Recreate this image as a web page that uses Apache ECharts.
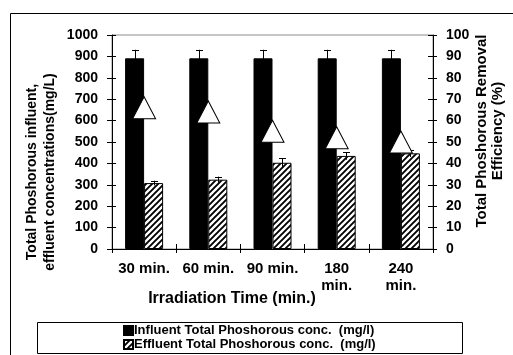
<!DOCTYPE html>
<html>
<head>
<meta charset="utf-8">
<script src="https://cdn.jsdelivr.net/npm/echarts@6/dist/echarts.min.js"></script>
<style>
  html, body { margin: 0; padding: 0; background: #fff; }
  #chart { width: 513px; height: 355px; }
</style>
</head>
<body>
<div id="chart"></div>
<script>
// Irradiation times (category axis)
const categories = ['30 min.', '60 min.', '90 min.', '180\nmin.', '240\nmin.'];

// Total phosphorus concentrations (mg/l) with error half-widths
const influent = [891, 891, 891, 891, 891];
const influentErr = [40, 40, 40, 40, 40];
const effluent = [308, 324, 403, 435, 447];
const effluentErr = [11, 14, 20, 18, 17];

// Removal efficiency (%) on the right axis
const efficiency = [66, 64, 55, 52, 50];

const seriesNames = [
  'Influent Total Phoshorous conc.  (mg/l)',
  'Effluent Total Phoshorous conc.  (mg/l)'
];
const leftTitle = 'Total Phoshorous influent,\neffluent concentrations(mg/L)';
const rightTitle = 'Total Phoshorous Removal\nEfficiency (%)';
const xTitle = 'Irradiation Time (min.)';

const FONT = '"Liberation Sans", Arial, Helvetica, sans-serif';
const BAR_W = 19;

// Diagonal "/" hatch tile for the effluent bars
function hatchTile() {
  const s = 6;
  const c = document.createElement('canvas');
  c.width = s; c.height = s;
  const g = c.getContext('2d');
  g.fillStyle = '#fff';
  g.fillRect(0, 0, s, s);
  g.strokeStyle = '#000';
  g.lineWidth = 1.9;
  g.beginPath();
  g.moveTo(-1, s + 1); g.lineTo(s + 1, -1);
  g.moveTo(-1, 1); g.lineTo(1, -1);
  g.moveTo(s - 1, s + 1); g.lineTo(s + 1, s - 1);
  g.stroke();
  return c;
}
const hatch = { image: hatchTile(), repeat: 'repeat' };

function errorSeries(values, errs, offset) {
  return {
    type: 'custom',
    xAxisIndex: 0,
    yAxisIndex: 0,
    z: 5,
    silent: true,
    data: values.map((v, i) => [i, v, errs[i]]),
    renderItem: function (params, api) {
      const i = api.value(0), v = api.value(1), e = api.value(2);
      const top = api.coord([i, v + e]);
      const bot = api.coord([i, v - e]);
      const x = Math.round(top[0] + offset) + 0.5;
      const style = { stroke: '#000', lineWidth: 1 };
      return {
        type: 'group',
        children: [
          { type: 'line', shape: { x1: x, y1: top[1], x2: x, y2: bot[1] }, style: style },
          { type: 'line', shape: { x1: x - 3.5, y1: Math.round(top[1]) + 0.5, x2: x + 3.5, y2: Math.round(top[1]) + 0.5 }, style: style }
        ]
      };
    }
  };
}

const labelStyle = { color: '#000', fontFamily: FONT, fontWeight: 'bold' };
const plainNumber = v => String(v);

const chart = echarts.init(document.getElementById('chart'), null, { renderer: 'canvas' });

chart.setOption({
  animation: false,
  backgroundColor: '#fff',
  grid: {
    left: 112, right: 80, top: 35, bottom: 106,
    show: true, borderColor: '#8c8c8c', borderWidth: 1, backgroundColor: 'transparent'
  },
  legend: {
    data: seriesNames,
    orient: 'vertical',
    left: 123,
    top: 324,
    padding: 0,
    itemGap: 1,
    itemWidth: 9,
    itemHeight: 9,
    icon: 'rect',
    textStyle: Object.assign({ fontSize: 13, padding: [0, 0, 0, -4] }, labelStyle)
  },
  xAxis: [
    {
      type: 'category',
      data: categories,
      axisLine: { lineStyle: { color: '#000', width: 1 } },
      axisTick: { show: true, inside: false, length: 4, lineStyle: { color: '#000' } },
      axisLabel: Object.assign({ fontSize: 15, margin: 11, lineHeight: 17, interval: 0 }, labelStyle),
      splitLine: { show: false }
    },
    {
      type: 'category',
      data: categories,
      position: 'bottom',
      axisLine: { show: false },
      axisTick: { show: true, inside: true, length: 5, lineStyle: { color: '#000' } },
      axisLabel: { show: false },
      splitLine: { show: false }
    }
  ],
  yAxis: [
    {
      type: 'value', min: 0, max: 1000, interval: 100, position: 'left',
      axisLine: { show: true, lineStyle: { color: '#000', width: 1 } },
      axisTick: { show: true, inside: false, length: 5, lineStyle: { color: '#000' } },
      axisLabel: Object.assign({ fontSize: 14, margin: 14, formatter: plainNumber }, labelStyle),
      splitLine: { show: false }
    },
    {
      type: 'value', min: 0, max: 100, interval: 10, position: 'right',
      axisLine: { show: true, lineStyle: { color: '#000', width: 1 } },
      axisTick: { show: true, inside: false, length: 4, lineStyle: { color: '#000' } },
      axisLabel: Object.assign({ fontSize: 14, margin: 13, formatter: plainNumber }, labelStyle),
      splitLine: { show: false }
    },
    {
      type: 'value', min: 0, max: 1000, interval: 100, position: 'left',
      axisLine: { show: false },
      axisTick: { show: true, inside: true, length: 4, lineStyle: { color: '#000' } },
      axisLabel: { show: false },
      splitLine: { show: false }
    },
    {
      type: 'value', min: 0, max: 100, interval: 10, position: 'right',
      axisLine: { show: false },
      axisTick: { show: true, inside: true, length: 5, lineStyle: { color: '#000' } },
      axisLabel: { show: false },
      splitLine: { show: false }
    }
  ],
  series: [
    {
      name: seriesNames[0],
      type: 'bar',
      data: influent,
      barWidth: BAR_W,
      barGap: '0%',
      itemStyle: { color: '#000', borderColor: '#000', borderWidth: 1 },
      z: 2
    },
    {
      name: seriesNames[1],
      type: 'bar',
      data: effluent,
      barWidth: BAR_W,
      barGap: '0%',
      itemStyle: { color: hatch, borderColor: '#000', borderWidth: 1 },
      z: 2
    },
    errorSeries(influent, influentErr, -BAR_W / 2),
    errorSeries(effluent, effluentErr, BAR_W / 2),
    {
      name: 'Removal Efficiency',
      type: 'scatter',
      yAxisIndex: 1,
      data: efficiency,
      symbol: 'triangle',
      symbolSize: [23, 22],
      itemStyle: { color: '#fff', borderColor: '#000', borderWidth: 1, opacity: 1 },
      z: 10
    }
  ],
  graphic: [
    // outer chart frame
    { type: 'rect', silent: true, shape: { x: 10.5, y: 13.5, width: 520, height: 360 },
      style: { fill: 'none', stroke: '#000', lineWidth: 1 } },
    // legend frame
    { type: 'rect', silent: true, shape: { x: 37.5, y: 322.5, width: 425, height: 31 },
      style: { fill: 'none', stroke: '#000', lineWidth: 1 } },
    { type: 'text', silent: true, x: 41, y: 172, rotation: Math.PI / 2,
      style: { text: leftTitle, fill: '#000', font: 'bold 14px ' + FONT,
        textAlign: 'center', textVerticalAlign: 'middle', lineHeight: 18 } },
    { type: 'text', silent: true, x: 490, y: 131, rotation: Math.PI / 2,
      style: { text: rightTitle, fill: '#000', font: 'bold 15px ' + FONT,
        textAlign: 'center', textVerticalAlign: 'middle', lineHeight: 16 } },
    { type: 'text', silent: true, x: 232, y: 299,
      style: { text: xTitle, fill: '#000', font: 'bold 16px ' + FONT,
        textAlign: 'center', textVerticalAlign: 'middle' } }
  ]
});
</script>
</body>
</html>
